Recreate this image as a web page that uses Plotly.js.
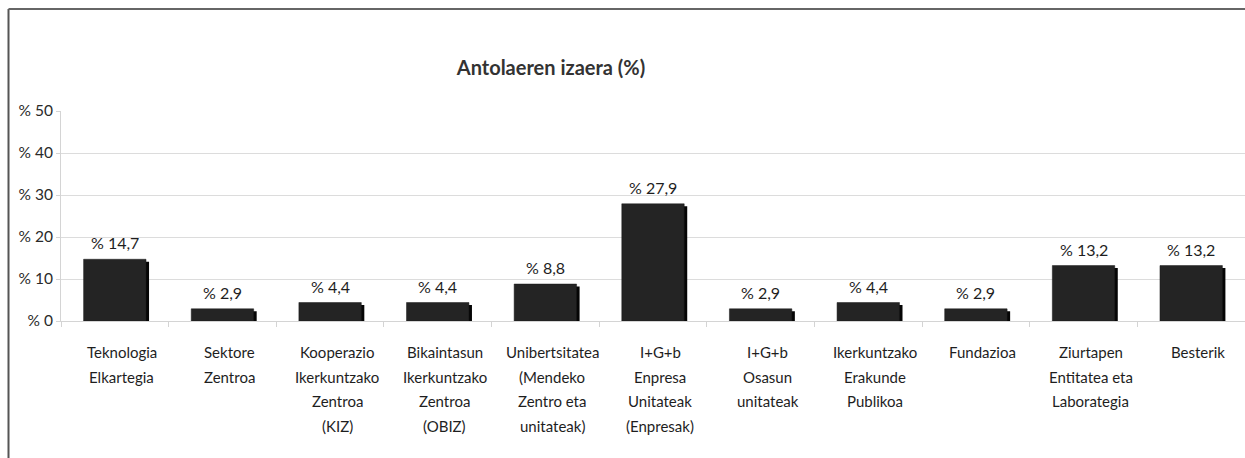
<!DOCTYPE html>
<html>
<head>
<meta charset="utf-8">
<script src="https://cdn.plot.ly/plotly-3.0.1.min.js"></script>
<style>
  html, body { margin: 0; padding: 0; background: #ffffff; }
  #chart { width: 1245px; height: 458px; }
</style>
</head>
<body>
<div id="chart"></div>
<script>
// ---- data ----
const categories = [
  "Teknologia\nElkartegia",
  "Sektore\nZentroa",
  "Kooperazio\nIkerkuntzako\nZentroa\n(KIZ)",
  "Bikaintasun\nIkerkuntzako\nZentroa\n(OBIZ)",
  "Unibertsitatea\n(Mendeko\nZentro eta\nunitateak)",
  "I+G+b\nEnpresa\nUnitateak\n(Enpresak)",
  "I+G+b\nOsasun\nunitateak",
  "Ikerkuntzako\nErakunde\nPublikoa",
  "Fundazioa",
  "Ziurtapen\nEntitatea eta\nLaborategia",
  "Besterik"
];
const values = [14.7, 2.9, 4.4, 4.4, 8.8, 27.9, 2.9, 4.4, 2.9, 13.2, 13.2];
const yTickValues = [0, 10, 20, 30, 40, 50];
const yTickLabels = ["% 0", "% 10", "% 20", "% 30", "% 40", "% 50"];
const chartTitle = "Antolaeren izaera (%)";

// ---- styling ----
const FONT = "Lato, 'Open Sans', 'DejaVu Sans', sans-serif";
const barW = 0.58;
const shadowShift = 0.028;   // category units (~3px)
const shadowDrop = 0.6;      // value units (~2.5px)

const shadow = {
  type: "bar",
  x: categories,
  y: values.map(v => v - shadowDrop),
  width: barW,
  offset: -barW / 2 + shadowShift,
  marker: { color: "#050505", line: { width: 0 } },
  hoverinfo: "skip",
  showlegend: false
};
const bars = {
  type: "bar",
  x: categories,
  y: values,
  width: barW,
  offset: -barW / 2,
  marker: { color: "#242424", line: { color: "#1a1a1a", width: 0.5 } },
  showlegend: false
};

const annotations = [];
// value labels
categories.forEach((c, i) => {
  annotations.push({
    x: c, y: values[i], xref: "x", yref: "y",
    text: "% " + values[i].toFixed(1).replace(".", ","),
    showarrow: false, yanchor: "bottom", yshift: 5,
    font: { family: FONT, size: 16, color: "#1e1e1e" }
  });
});
// category labels, line by line
categories.forEach((c) => {
  c.split("\n").forEach((line, j) => {
    annotations.push({
      x: c, y: 0, xref: "x", yref: "paper",
      text: line, showarrow: false, yanchor: "middle",
      xshift: 7, yshift: -31 - j * 24.5,
      font: { family: FONT, size: 15, color: "#1e1e1e" }
    });
  });
});

const frameX = (8.5 - 61) / 1184;
const frameTop = (321 - 9) / 210;

const layout = {
  width: 1245, height: 458,
  margin: { l: 61, r: 0, t: 111, b: 137, pad: 0 },
  paper_bgcolor: "#ffffff",
  plot_bgcolor: "#ffffff",
  barmode: "overlay",
  font: { family: FONT, color: "#222" },
  title: {
    text: "<b>" + chartTitle + "</b>",
    x: 551 / 1245, xanchor: "center", xref: "container",
    y: 1 - 68 / 458, yanchor: "middle", yref: "container",
    font: { family: FONT, size: 20, color: "#333" }
  },
  xaxis: {
    type: "category",
    showticklabels: false,
    showgrid: false,
    showline: true, linecolor: "#d4d4d4", linewidth: 1,
    ticks: "outside", tickson: "boundaries", ticklen: 5, tickcolor: "#d4d4d4",
    zeroline: false,
    range: [-0.5, categories.length - 0.5]
  },
  yaxis: {
    range: [0, 50],
    tickvals: yTickValues, ticktext: yTickLabels,
    showgrid: true, gridcolor: "#dcdcdc", gridwidth: 1,
    showline: true, linecolor: "#d4d4d4", linewidth: 1,
    ticks: "outside", ticklen: 4, tickcolor: "#d4d4d4",
    zeroline: false,
    tickfont: { family: FONT, size: 15.5, color: "#2a2a2a" }
  },
  shapes: [
    { type: "line", xref: "paper", yref: "paper",
      x0: frameX, x1: frameX, y0: -1.0, y1: frameTop,
      line: { color: "#555555", width: 2 } },
    { type: "line", xref: "paper", yref: "paper",
      x0: frameX, x1: 1.02, y0: frameTop, y1: frameTop,
      line: { color: "#666666", width: 2 } }
  ],
  annotations: annotations
};

Plotly.newPlot("chart", [shadow, bars], layout, { displayModeBar: false, staticPlot: true });
</script>
</body>
</html>
